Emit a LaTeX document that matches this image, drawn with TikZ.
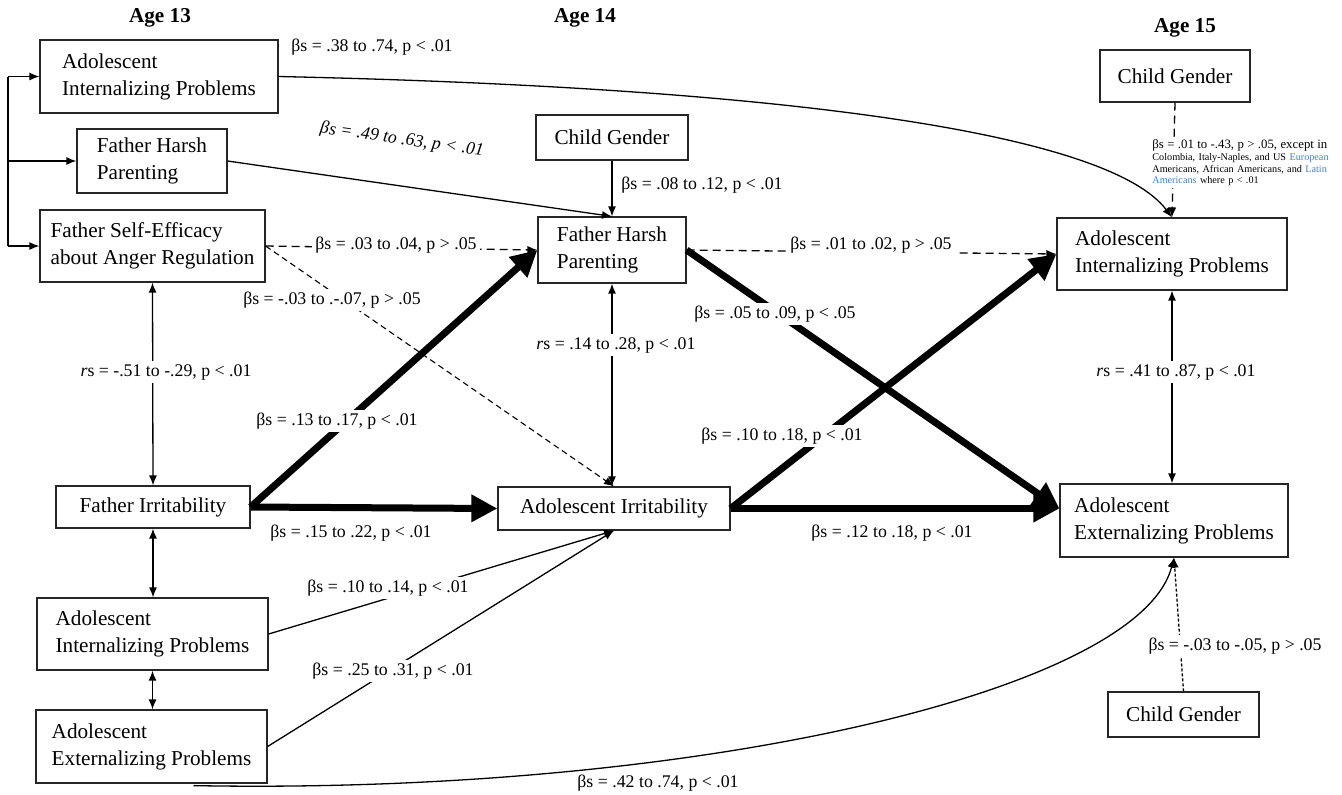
\documentclass[tikz,border=0pt]{standalone}
\usepackage{fontspec}
\setmainfont{Liberation Serif}
\usetikzlibrary{arrows.meta,calc}
\definecolor{linkblue}{RGB}{70,130,210}
\begin{document}
\begin{tikzpicture}[x=0.5pt,y=-0.5pt,
  box/.style={draw=black!85, line width=0.6pt, font=\fontsize{10.6}{13.5}\selectfont, align=left, inner sep=0pt},
  cbox/.style={box, align=center},
  lbl/.style={font=\fontsize{8.9}{10.5}\selectfont, inner sep=1.5pt},
  wlbl/.style={lbl, fill=white},
  hdr/.style={font=\bfseries\fontsize{10.6}{12}\selectfont},
  conn/.style={line width=0.65pt, -{Latex[length=5pt,width=4pt]}},
  biconn/.style={line width=0.65pt, {Latex[length=5pt,width=4pt]}-{Latex[length=5pt,width=4pt]}},
  heavy/.style={line width=3.5pt, -{Triangle[length=13pt,width=13pt]}},
  dconn/.style={conn, dash pattern=on 4pt off 2.5pt},
]
\fill[white] (0,0) rectangle (1342,794);
\useasboundingbox (0,0) rectangle (1342,794);

% headers
\node[hdr] (h13) at (160,18) {Age 13};
\node[hdr] (h14) at (585,18) {Age 14};
\node[hdr] (h15) at (1185,28) {Age 15};

% boxes
\node[box, minimum width=119pt, minimum height=36.5pt] (ai13) at (159,76.5) {Adolescent\\Internalizing Problems};
\node[box, minimum width=75pt, minimum height=32pt] (fh13) at (152,161) {Father Harsh\\Parenting};
\node[box, minimum width=112.5pt, minimum height=36pt] (se13) at (152.5,246) {Father Self-Efficacy\\about Anger Regulation};
\node[cbox, minimum width=97pt, minimum height=21pt] (fi13) at (153,507) {Father Irritability};
\node[box, minimum width=115.5pt, minimum height=36pt] (ai13b) at (152.5,634) {Adolescent\\Internalizing Problems};
\node[box, minimum width=115.5pt, minimum height=36.5pt] (ae13) at (151.5,746.5) {Adolescent\\Externalizing Problems};
\node[cbox, minimum width=76pt, minimum height=22.5pt] (cg14) at (612,137.5) {Child Gender};
\node[box, minimum width=74pt, minimum height=33pt] (fh14) at (612,250) {Father Harsh\\Parenting};
\node[cbox, minimum width=116pt, minimum height=21.5pt] (ai14) at (614,508.5) {Adolescent Irritability};
\node[cbox, minimum width=75pt, minimum height=26pt] (cg15a) at (1175,76) {Child Gender};
\node[box, minimum width=115pt, minimum height=36pt] (ai15) at (1172,254) {Adolescent\\Internalizing Problems};
\node[box, minimum width=114pt, minimum height=36.5pt] (ae15) at (1174,520.5) {Adolescent\\Externalizing Problems};
\node[cbox, minimum width=75.5pt, minimum height=22.5pt] (cg15b) at (1183.5,714.5) {Child Gender};

\coordinate (bx) at (8,0);
\coordinate (extin) at (ae15.west |- ai14.east);

% connectors
\draw[line width=0.65pt] (ai13.west -| bx) -- (se13.west -| bx);
\draw[conn] (ai13.west -| bx) -- (ai13.west);
\draw[conn] (fh13.west -| bx) -- (fh13.west);
\draw[conn] (se13.west -| bx) -- (se13.west);

\draw[conn] (ai13.east) .. controls (800,88) and (1110,135) .. (ai15.north);
\draw[conn] (fh13.east) -- (fh14.north);
\draw[conn] (cg14.south) -- (fh14.north);
\draw[dconn] (se13.east) -- (fh14.west);
\draw[conn, line width=0.55pt, dash pattern=on 3pt off 2pt] (se13.east) -- (ai14.north);
\draw[biconn] (se13.south) -- (fi13.north);
\draw[heavy] (fi13.east) -- (fh14.west);
\draw[heavy] (fi13.east) -- (ai14.west);
\draw[biconn] (fh14.south) -- (fh14.south |- ai14.north);
\draw[dconn] (fh14.east) -- (ai15.west);
\draw[heavy] (fh14.east) -- (extin);
\draw[heavy] (ai14.east) -- (ai15.west);
\draw[heavy] (ai14.east) -- (extin);
\draw[biconn] (ai15.south) -- (ai15.south |- ae15.north);
\draw[dconn] (cg15a.south) -- (ai15.north);
\draw[conn, dash pattern=on 1.5pt off 1pt] (cg15b.north) -- (ae15.south);
\draw[conn] ($(ae13.south)+(42,2)$) .. controls (700,795) and (1140,690) .. (ae15.south);
\draw[conn] (ai13b.east) -- (ai14.south);
\draw[conn] (ae13.east) -- (ai14.south);
\draw[biconn] (fi13.south) -- (fi13.south |- ai13b.north);
\draw[biconn] (ai13b.south) -- (ai13b.south |- ae13.north);

% labels
\node[lbl] (l1) at (372,47) {βs = .38 to .74, p < .01};
\node[lbl, rotate=-8, font=\itshape\fontsize{8.9}{10.5}\selectfont] (l2) at (402,140) {βs = .49 to .63, p < .01};
\node[lbl] (l3) at (702,185) {βs = .08 to .12, p < .01};
\node[wlbl] (l4) at (396,245) {βs = .03 to .04, p > .05};
\node[wlbl] (l5) at (332,300) {βs = -.03 to .-.07, p > .05};
\node[wlbl] (l6) at (166,372) {\textit{r}s = -.51 to -.29, p < .01};
\node[wlbl] (l7) at (337,421) {βs = .13 to .17, p < .01};
\node[lbl] (l8) at (351,533) {βs = .15 to .22, p < .01};
\node[wlbl] (l9) at (616,345) {\textit{r}s = .14 to .28, p < .01};
\node[wlbl] (l10) at (871,245) {βs = .01 to .02, p > .05};
\node[wlbl] (l11) at (775,314) {βs = .05 to .09, p < .05};
\node[wlbl] (l12) at (782,436) {βs = .10 to .18, p < .01};
\node[lbl] (l13) at (892,533) {βs = .12 to .18, p < .01};
\node[wlbl] (l14) at (1176,372) {\textit{r}s = .41 to .87, p < .01};
\node[wlbl] (l15) at (1235,646) {βs = -.03 to -.05, p > .05};
\node[lbl] (l16) at (658,783) {βs = .42 to .74, p < .01};
\node[wlbl] (l17) at (388,588) {βs = .10 to .14, p < .01};
\node[wlbl] (l18) at (393,671) {βs = .25 to .31, p < .01};
\node[fill=white, inner sep=1pt, anchor=north west, text width=98pt, align=left, font=\fontsize{5.1}{5.9}\selectfont] (l19) at (1150,137) {{\fontsize{6.4}{5.9}\selectfont βs = .01 to -.43, p > .05, except in}\\ Colombia, Italy-Naples, and US \textcolor{linkblue}{European}\\ Americans, African Americans, and \textcolor{linkblue}{Latin}\\ \textcolor{linkblue}{Americans} where p < .01};
\end{tikzpicture}
\end{document}
